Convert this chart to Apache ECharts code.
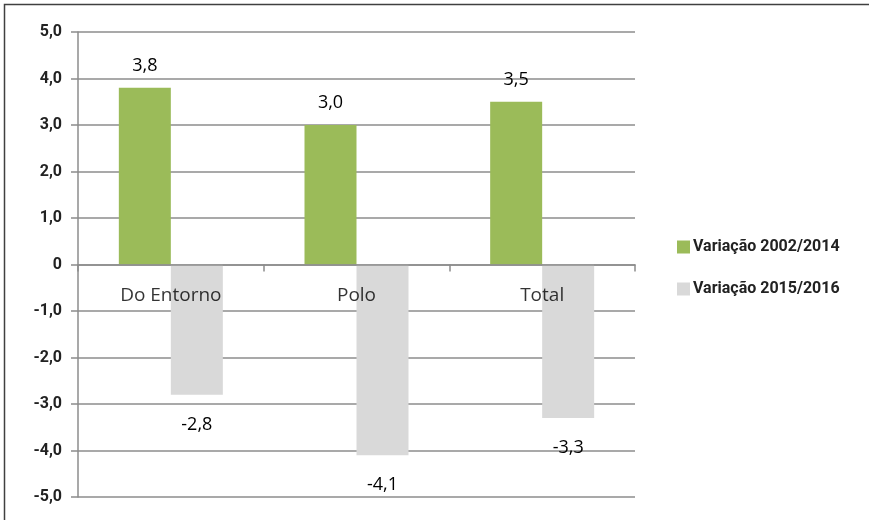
<!DOCTYPE html>
<html>
<head>
<meta charset="utf-8">
<script src="https://cdn.jsdelivr.net/npm/echarts@6/dist/echarts.min.js"></script>
<style>html,body{margin:0;padding:0;background:#fff;}#c{width:869px;height:520px;}</style>
</head>
<body>
<div id="c"></div>
<script>
var categories = ['Do Entorno', 'Polo', 'Total'];
var seriesNames = ['Variação 2002/2014', 'Variação 2015/2016'];
var var2002_2014 = [3.8, 3.0, 3.5];
var var2015_2016 = [-2.8, -4.1, -3.3];

function fmt(v) { return v === 0 ? '0' : v.toFixed(1).replace('.', ','); }

var chart = echarts.init(document.getElementById('c'));
var labelFont = '"Open Sans", "Noto Sans", sans-serif';
var boldFont = 'Roboto, sans-serif';
chart.setOption({
  animation: false,
  graphic: [{
    type: 'rect', shape: { x: 4.5, y: 4.5, width: 900, height: 600 },
    style: { fill: 'none', stroke: '#404040', lineWidth: 1.5 }, silent: true
  }],
  grid: { left: 78, right: 234, top: 32, bottom: 23, containLabel: false, outerBoundsMode: 'none' },
  legend: {
    orient: 'vertical', left: 672, top: 234, itemGap: 26,
    itemWidth: 13, itemHeight: 13, icon: 'rect',
    textStyle: { fontFamily: boldFont, fontWeight: 'bold', fontSize: 16, color: '#222', padding: [0, 0, 0, -2] },
    data: seriesNames
  },
  xAxis: {
    type: 'category', data: categories,
    axisLine: { onZero: true, lineStyle: { color: '#8c8c8c', width: 1.5 } },
    axisTick: { show: true, length: 7, lineStyle: { color: '#8c8c8c', width: 1.5 } },
    axisLabel: { show: false },
    z: 10
  },
  yAxis: {
    type: 'value', min: -5, max: 5, interval: 1,
    axisLine: { show: true, lineStyle: { color: '#8c8c8c', width: 1.5 } },
    axisTick: { show: true, length: 7, lineStyle: { color: '#8c8c8c', width: 1.5 } },
    splitLine: { lineStyle: { color: '#8c8c8c', width: 1.5 } },
    axisLabel: { margin: 16, fontFamily: boldFont, fontWeight: 'bold', fontSize: 16, color: '#222',
      formatter: function (v) { return fmt(v); } }
  },
  series: [{
    name: seriesNames[0], type: 'bar', data: var2002_2014,
    barWidth: 52, barGap: '0%',
    itemStyle: { color: '#9bbb59' },
    label: { show: true, position: 'top', distance: 13, fontFamily: labelFont, fontSize: 18, color: '#000',
      formatter: function (p) { return fmt(p.value); } }
  }, {
    name: seriesNames[1], type: 'bar', data: var2015_2016,
    barWidth: 52, barGap: '0%',
    itemStyle: { color: '#d9d9d9' },
    label: { show: true, position: 'bottom', distance: 21, fontFamily: labelFont, fontSize: 18, color: '#000',
      formatter: function (p) { return fmt(p.value); } }
  }, {
    name: 'categoryLabels', type: 'scatter', silent: true, z: 20,
    symbolSize: 0,
    data: categories.map(function (c) { return [c, 0]; }),
    label: { show: true, position: 'bottom', distance: 22, fontFamily: labelFont, fontSize: 19, color: '#000',
      formatter: function (p) { return p.value[0]; } }
  }]
});
</script>
</body>
</html>
